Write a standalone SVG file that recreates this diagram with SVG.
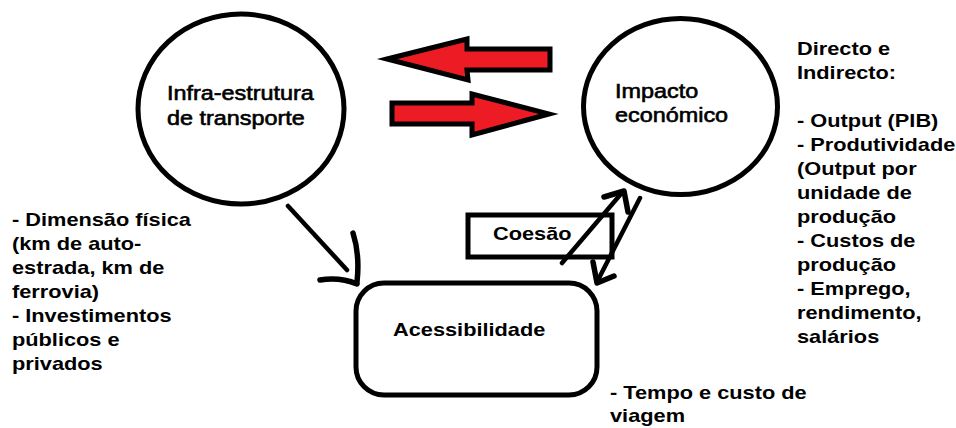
<svg xmlns="http://www.w3.org/2000/svg" width="956" height="428" viewBox="0 0 956 428">
<style>
.shape{fill:#fff;stroke:#000;stroke-width:5}
.lbl{font-family:"Liberation Sans",Arial,sans-serif;font-size:20px;fill:#000;stroke:#000;stroke-width:0.6px}
.bl{font-family:"Liberation Sans",Arial,sans-serif;font-size:18.6px;font-weight:bold;fill:#000}
.red{fill:#ED1C24;stroke:#000;stroke-width:5;stroke-linejoin:miter;stroke-miterlimit:6}
.ln{fill:none;stroke:#000;stroke-width:4.5;stroke-linecap:round;stroke-linejoin:round}
.barb{fill:none;stroke:#000;stroke-width:5.5;stroke-linecap:round;stroke-linejoin:round}
</style>
<rect width="956" height="428" fill="#fff"/>
<g id="infra">
<ellipse class="shape" cx="241" cy="109" rx="103" ry="95"/>
<text class="lbl" transform="translate(167,100) scale(1.17,1)"><tspan x="0">Infra-estrutura</tspan><tspan x="0" dy="25">de transporte</tspan></text>
</g>
<g id="impacto">
<ellipse class="shape" cx="680.5" cy="106.5" rx="97" ry="88"/>
<text class="lbl" transform="translate(615,98) scale(1.17,1)"><tspan x="0">Impacto</tspan><tspan x="0" dy="24">económico</tspan></text>
</g>
<g id="acessibilidade">
<rect class="shape" x="356" y="283" width="241" height="112" rx="28"/>
<text class="bl" transform="translate(393,336) scale(1.17,1)">Acessibilidade</text>
</g>
<g id="coesao">
<rect class="shape" x="468" y="215" width="144" height="42"/>
<text class="bl" transform="translate(493,240) scale(1.17,1)">Coesão</text>
</g>
<g id="connectors">
<polygon class="red" points="387,59 467,39 467,49 550,49 550,70 467,70 468,80"/>
<polygon class="red" points="392,103 472,103 472,94 549,114 472,135 472,124 392,124"/>
<line class="ln" x1="288" y1="206" x2="347" y2="270"/>
<path class="barb" d="M353,233 Q360,255 357,282"/>
<path class="barb" d="M320,280 Q340,277 357,284"/>
<line class="ln" x1="562" y1="263" x2="620" y2="195"/>
<polyline class="barb" points="604,197 624,191 628,212"/>
<line class="ln" x1="640" y1="198" x2="598" y2="280"/>
<polyline class="barb" points="593,262 597,283 614,276"/>
</g>
<g id="nota-infra">
<text class="bl" transform="translate(12,226) scale(1.17,1)"><tspan x="0">- Dimensão física</tspan><tspan x="0" dy="24">(km de auto-</tspan><tspan x="0" dy="24">estrada, km de</tspan><tspan x="0" dy="24">ferrovia)</tspan><tspan x="0" dy="24">- Investimentos</tspan><tspan x="0" dy="24">públicos e</tspan><tspan x="0" dy="24">privados</tspan></text>
</g>
<g id="nota-impacto">
<text class="bl" transform="translate(797,55) scale(1.17,1)"><tspan x="0">Directo e</tspan><tspan x="0" dy="24">Indirecto:</tspan><tspan x="0" dy="48">- Output (PIB)</tspan><tspan x="0" dy="24">- Produtividade</tspan><tspan x="0" dy="24">(Output por</tspan><tspan x="0" dy="24">unidade de</tspan><tspan x="0" dy="24">produção</tspan><tspan x="0" dy="24">- Custos de</tspan><tspan x="0" dy="24">produção</tspan><tspan x="0" dy="24">- Emprego,</tspan><tspan x="0" dy="24">rendimento,</tspan><tspan x="0" dy="24">salários</tspan></text>
</g>
<g id="nota-acess">
<text class="bl" transform="translate(610,399) scale(1.17,1)"><tspan x="0">- Tempo e custo de</tspan><tspan x="0" dy="23">viagem</tspan></text>
</g>
</svg>
